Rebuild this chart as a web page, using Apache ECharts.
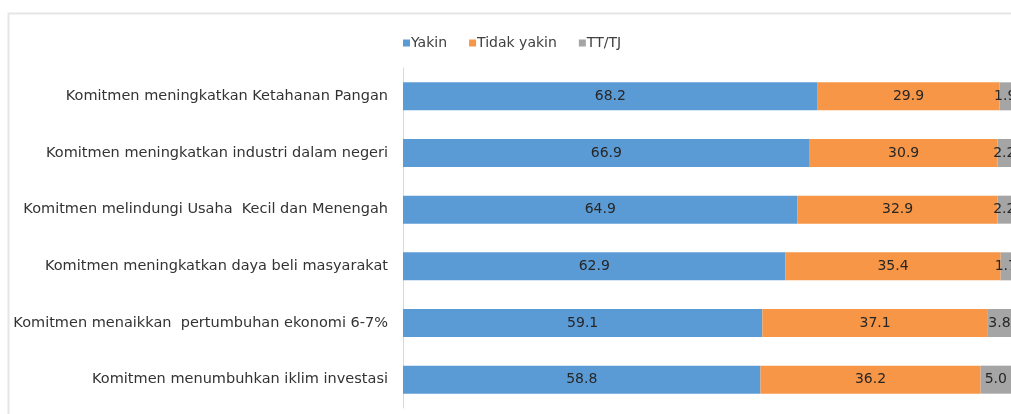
<!DOCTYPE html>
<html><head><meta charset="utf-8">
<script src="https://cdn.jsdelivr.net/npm/echarts@6/dist/echarts.min.js"></script>
<style>html,body{margin:0;padding:0;background:#fff}#c{width:1011px;height:414px}</style>
</head><body><div id="c"></div>
<script>
const categories = [
  "Komitmen meningkatkan Ketahanan Pangan",
  "Komitmen meningkatkan industri dalam negeri",
  "Komitmen melindungi Usaha  Kecil dan Menengah",
  "Komitmen meningkatkan daya beli masyarakat",
  "Komitmen menaikkan  pertumbuhan ekonomi 6-7%",
  "Komitmen menumbuhkan iklim investasi"
];
const yakin = [68.2, 66.9, 64.9, 62.9, 59.1, 58.8];
const tidakYakin = [29.9, 30.9, 32.9, 35.4, 37.1, 36.2];
const ttTj = [1.9, 2.2, 2.2, 1.7, 3.8, 5.0];
const seriesNames = ["Yakin", "Tidak yakin", "TT/TJ"];
const colors = ["#5B9BD5", "#F79646", "#A5A5A5"];

const font = "DejaVu Sans";
const chart = echarts.init(document.getElementById('c'));
const lbl = {show: true, position: 'inside', color: '#262626', fontFamily: font, fontSize: 14,
  formatter: p => p.value.toFixed(1)};
chart.setOption({
  animation: false,
  color: colors,
  legend: {
    top: 31, left: 398, itemWidth: 7, itemHeight: 7, itemGap: 22,
    icon: 'rect',
    textStyle: {fontFamily: font, fontSize: 14, color: '#404040', padding: [0,0,0,-4]},
    data: seriesNames
  },
  grid: {left: 403, top: 68, right: 0, bottom: 6, containLabel: false},
  xAxis: {type: 'value', min: 0, max: 100, show: false},
  yAxis: {
    type: 'category', inverse: true, data: categories,
    axisLine: {show: true, lineStyle: {color: '#D9D9D9'}},
    axisTick: {show: false},
    axisLabel: {fontFamily: font, fontSize: 14.5, color: '#333', margin: 15}
  },
  series: [
    {name: seriesNames[0], type: 'bar', stack: 's', barWidth: 28, data: yakin, label: lbl},
    {name: seriesNames[1], type: 'bar', stack: 's', barWidth: 28, data: tidakYakin, label: lbl},
    {name: seriesNames[2], type: 'bar', stack: 's', barWidth: 28, data: ttTj, label: lbl}
  ],
  graphic: [
    {type: 'rect', shape: {x: 8.5, y: 13.5, width: 1100, height: 500}, style: {fill: null, stroke: '#E6E6E6', lineWidth: 2}, silent: true, z: -1}
  ]
});
</script></body></html>
